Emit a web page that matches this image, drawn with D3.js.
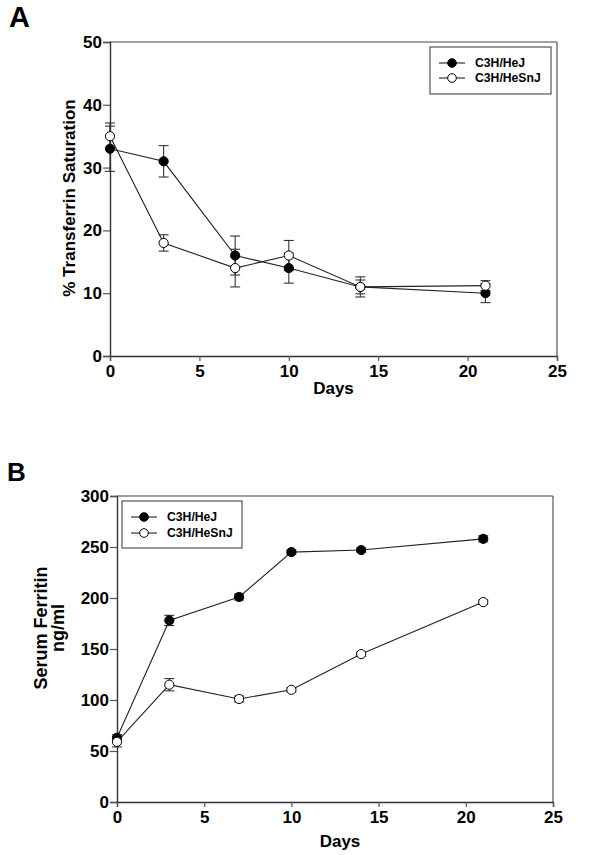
<!DOCTYPE html>
<html><head><meta charset="utf-8">
<script src="https://cdn.jsdelivr.net/npm/d3@7/dist/d3.min.js"></script>
<style>body{margin:0;background:#fff}svg{display:block}text{font-family:"Liberation Sans",Arial,sans-serif;font-weight:bold}</style>
</head><body>
<script>
// Shared x values (days)
const days = [0, 3, 7, 10, 14, 21];
const xTicks = [0, 5, 10, 15, 20, 25];
const seriesNames = ["C3H/HeJ", "C3H/HeSnJ"];

// Panel A: % Transferrin Saturation
const tsatHeJ = [33, 31, 16, 14, 11, 10];
const tsatHeJErr = [3.6, 2.5, 3.1, 2.4, 1.6, 1.5];
const tsatHeSnJ = [35, 18, 14, 16, 11, 11.2];
const tsatHeSnJErr = [2.1, 1.3, 3.0, 2.4, 1.1, 0.8];
const yTicksA = [0, 10, 20, 30, 40, 50];

// Panel B: Serum Ferritin ng/ml
const ferHeJ = [63, 178, 201, 245, 247, 258];
const ferHeJErr = [3, 5, 3, 2, 2, 3];
const ferHeSnJ = [59, 115, 101, 110, 145, 196];
const ferHeSnJErr = [5, 6, 3, 2, 2, 2];
const yTicksB = [0, 50, 100, 150, 200, 250, 300];

const svg = d3.select("body").append("svg").attr("width", 600).attr("height", 855);

function panel(cfg) {
  const x = d3.scaleLinear().domain([0, 25]).range([cfg.x0, cfg.x1]);
  const y = d3.scaleLinear().domain([0, cfg.ymax]).range([cfg.y0, cfg.y1]);
  const g = svg.append("g");
  // top and right border
  g.append("line").attr("x1", cfg.x0).attr("x2", cfg.x1).attr("y1", cfg.y1).attr("y2", cfg.y1).attr("stroke", "#444").attr("stroke-width", 1.2);
  g.append("line").attr("x1", cfg.x1).attr("x2", cfg.x1).attr("y1", cfg.y1).attr("y2", cfg.y0).attr("stroke", "#555").attr("stroke-width", 1.2);
  const ya = g.append("g").attr("transform", `translate(${cfg.x0},0)`)
    .call(d3.axisLeft(y).tickValues(cfg.yTicks).tickSize(7).tickPadding(1).tickFormat(d3.format("d")));
  const xa = g.append("g").attr("transform", `translate(0,${cfg.y0})`)
    .call(d3.axisBottom(x).tickValues(xTicks).tickSize(5).tickPadding(4).tickFormat(d3.format("d")));
  [ya, xa].forEach(a => {
    a.select(".domain").attr("stroke", "#333").attr("stroke-width", 1.4);
    a.selectAll(".tick line").attr("stroke", "#555").attr("stroke-width", 1.2);
    a.selectAll("text").attr("font-size", 17).attr("fill", "#000");
  });
  // x label
  g.append("text").attr("x", x(12.5) + (cfg.daysShift || 0)).attr("y", cfg.daysY).attr("text-anchor", "middle")
    .attr("font-size", 17).text("Days");
  // y label
  const yl = g.append("text").attr("transform", `translate(${cfg.ylx},${cfg.ylc}) rotate(-90)`)
    .attr("text-anchor", "middle").attr("font-size", cfg.ylSize);
  cfg.ylabel.forEach((t, i) => yl.append("tspan").attr("x", 0).attr("dy", i === 0 ? 0 : 17).text(t));
  // panel letter
  g.append("text").attr("x", cfg.letterX).attr("y", cfg.letterY).attr("font-size", cfg.letterSize).text(cfg.letter);

  const line = d3.line().x((d, i) => x(days[i])).y(d => y(d));
  cfg.series.forEach((s) => {
    const eb = g.append("g").attr("stroke", "#333").attr("stroke-width", 1.1);
    s.vals.forEach((v, i) => {
      const e = s.err[i], cx = x(days[i]);
      eb.append("line").attr("x1", cx).attr("x2", cx).attr("y1", y(v - e)).attr("y2", y(v + e));
      [v - e, v + e].forEach(w => eb.append("line").attr("x1", cx - 5).attr("x2", cx + 5).attr("y1", y(w)).attr("y2", y(w)));
    });
  });
  cfg.series.forEach((s) => {
    g.append("path").datum(s.vals).attr("d", line).attr("fill", "none").attr("stroke", "#222").attr("stroke-width", 1.1);
  });
  cfg.series.forEach((s, si) => {
    g.append("g").selectAll("circle").data(s.vals).join("circle")
      .attr("cx", (d, i) => x(days[i])).attr("cy", d => y(d)).attr("r", 4.6)
      .attr("fill", si === 0 ? "#000" : "#fff").attr("stroke", "#000").attr("stroke-width", 1);
  });
  // legend
  const L = cfg.legend;
  g.append("rect").attr("x", L.x).attr("y", L.y).attr("width", L.w).attr("height", L.h)
    .attr("fill", "#fff").attr("stroke", "#444").attr("stroke-width", 1.1);
  seriesNames.forEach((n, i) => {
    const ry = L.y + 16 + i * L.gap;
    g.append("line").attr("x1", L.x + 9).attr("x2", L.x + 35).attr("y1", ry).attr("y2", ry).attr("stroke", "#222").attr("stroke-width", 1.1);
    g.append("circle").attr("cx", L.x + 22).attr("cy", ry).attr("r", 4.3).attr("fill", i === 0 ? "#000" : "#fff").attr("stroke", "#000");
    g.append("text").attr("x", L.x + 45).attr("y", ry + 4.3).attr("font-size", 12.2).text(n);
  });
}

panel({
  x0: 110, x1: 557, y0: 356, y1: 42, ymax: 50, yTicks: yTicksA,
  daysY: 394, ylx: 75, ylc: 198, ylSize: 17, ylabel: ["% Transferrin Saturation"],
  letter: "A", letterX: 9, letterY: 27, letterSize: 29,
  series: [{ vals: tsatHeJ, err: tsatHeJErr }, { vals: tsatHeSnJ, err: tsatHeSnJErr }],
  legend: { x: 430, y: 47, w: 121, h: 47, gap: 15 }
});

panel({
  x0: 117, x1: 553, y0: 802, y1: 496, ymax: 300, yTicks: yTicksB,
  daysY: 847, daysShift: 5, ylx: 47, ylc: 628, ylSize: 18, ylabel: ["Serum Ferritin", "ng/ml"],
  letter: "B", letterX: 7, letterY: 481, letterSize: 26,
  series: [{ vals: ferHeJ, err: ferHeJErr }, { vals: ferHeSnJ, err: ferHeSnJErr }],
  legend: { x: 122, y: 501, w: 120, h: 47, gap: 16 }
});
</script>
</body></html>
